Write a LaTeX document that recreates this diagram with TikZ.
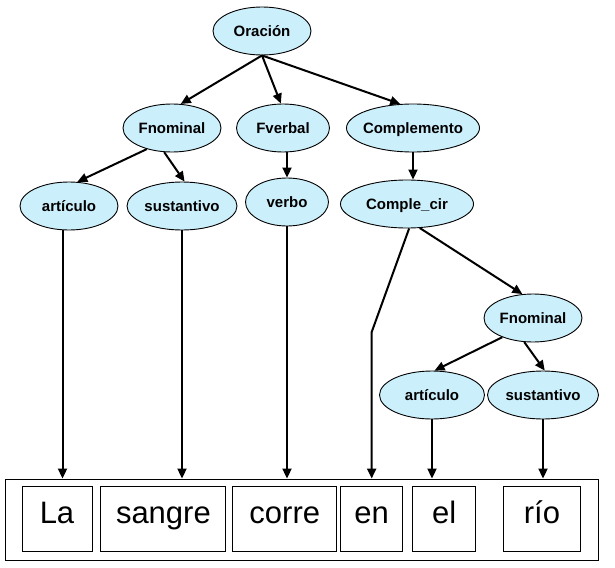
\documentclass[tikz,border=0pt]{standalone}
\usepackage{fontspec}
\setmainfont{Liberation Sans}
\usetikzlibrary{arrows.meta,positioning,shapes.geometric,calc}

\begin{document}
\begin{tikzpicture}[
  x=1pt, y=-1pt,
  cat/.style={ellipse, draw=black, line width=0.9pt, fill=cyan!20,
              font=\fontsize{15}{18}\selectfont\bfseries,
              text height=11pt, text depth=0pt,
              inner xsep=-15pt, inner ysep=0pt, minimum height=48pt},
  word/.style={draw=black, line width=0.9pt,
               font=\fontsize{31}{36}\selectfont,
               text height=15pt, text depth=6pt,
               minimum height=65pt, inner sep=0pt},
  arr/.style={-{Triangle[length=10pt,width=9pt]}, line width=2pt},
]
\useasboundingbox (0,0) rectangle (615,567);

% Categories
\node[cat, minimum width=98pt]  (ora)  at (262,31)  {Oración};
\node[cat, minimum width=98pt]  (fn)   at (172,128) {Fnominal};
\node[cat, minimum width=93pt]  (fv)   at (283,128) {Fverbal};
\node[cat, minimum width=133pt] (comp) at (413,128) {Complemento};
\node[cat, minimum width=98pt]  (art)  at (69,206)  {artículo};
\node[cat, minimum width=110pt] (sus)  at (182,206) {sustantivo};
\node[cat, minimum width=83pt]  (vb)   at (287,202) {verbo};
\node[cat, minimum width=133pt] (cc)   at (407,204) {Comple\_cir};
\node[cat, minimum width=98pt]  (fnb)  at (533,318) {Fnominal};
\node[cat, minimum width=105pt] (artb) at (432,395) {artículo};
\node[cat, minimum width=111pt] (susb) at (543,395) {sustantivo};

% Sentence
\node[draw=black, line width=0.9pt, minimum width=593pt, minimum height=81pt,
      inner sep=0pt] (frase) at (301.5,519.5) {};
\node[word, minimum width=70pt]                   (la)     at (57,518.5) {La};
\node[word, minimum width=125pt, right=8pt of la]     (sangre) {sangre};
\node[word, minimum width=104pt, right=6pt of sangre] (corre)  {corre};
\node[word, minimum width=62pt,  right=3pt of corre]  (en)     {en};
\node[word, minimum width=63pt,  right=9pt of en]     (el)     {el};
\node[word, minimum width=77pt,  right=27pt of el]    (rio)    {río};

% Tree arrows
\draw[arr] (ora.south) -- (fn.70);
\draw[arr] (ora.south) -- (fv.95);
\draw[arr] (ora.south) -- (comp.118);
\draw[arr] (fn.220) -- (art.71);
\draw[arr] (fn.252) -- (sus.84);
\draw[arr] (fv.south -| vb) -- (vb.north);
\draw[arr] (comp.south) -- (comp.south |- cc.north);
\draw[arr] (cc.298) -- (fnb.114);
\draw[arr] (fnb.212) -- (artb.84);
\draw[arr] (fnb.250) -- (susb.86);

% Preposition: bent line down to the sentence
\coordinate (codo) at (en.north |- 0,332);
\draw[arr] (cc.275) -- (codo) -- (codo |- frase.north);

% Leaves down to the sentence
\draw[arr] (art.255) -- (art.255 |- frase.north);
\draw[arr] (sus.south) -- (sus.south |- frase.north);
\draw[arr] (vb.south) -- (vb.south |- frase.north);
\draw[arr] (artb.south) -- (artb.south |- frase.north);
\draw[arr] (susb.south) -- (susb.south |- frase.north);

\end{tikzpicture}
\end{document}
